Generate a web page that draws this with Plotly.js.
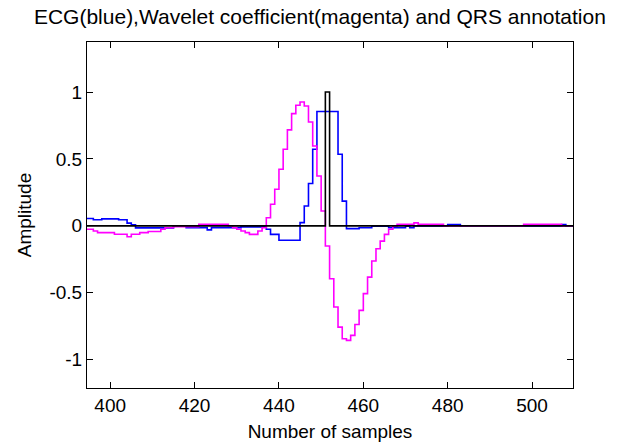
<!DOCTYPE html>
<html>
<head>
<meta charset="utf-8">
<script src="https://cdn.plot.ly/plotly-3.0.1.min.js"></script>
<style>html,body{margin:0;padding:0;background:#fff;}#chart{width:620px;height:444px;}</style>
</head>
<body>
<div id="chart"></div>
<script>
// sample index of first value
var firstSample = 394;

// ECG (blue), one value per sample from 394 to 510
var ecg = [
  0.055, 0.055, 0.045, 0.045, 0.052, 0.052, 0.052, 0.052, 0.045, 0.045, 0.02, 0.007,
  -0.015, -0.015, -0.015, -0.015, -0.015, -0.015, -0.015, -0.015, -0.015,
  -0.003, -0.003, -0.003,
  -0.013, -0.013, -0.013, -0.013, -0.013,
  -0.03,
  -0.013, -0.013, -0.013, -0.013, -0.013, -0.013, -0.013,
  -0.008, -0.008, -0.008, -0.008, -0.008, -0.008,
  -0.026, -0.064, -0.064,
  -0.108, -0.108, -0.108, -0.108, -0.108,
  0.024, 0.148, 0.316, 0.572,
  0.854, 0.854, 0.854, 0.854, 0.854,
  0.535, 0.185,
  -0.021, -0.021, -0.021,
  -0.014, -0.014, -0.014,
  -0.003, -0.003, -0.003, -0.003,
  -0.014, -0.014, -0.014, -0.014,
  -0.003, -0.014,
  0, 0, 0, 0, 0, 0, 0, 0,
  0.009, 0.009, 0.009,
  0, 0, 0, 0, 0, 0, 0, 0, 0, 0, 0, 0, 0, 0, 0, 0, 0, 0, 0, 0, 0, 0, 0, 0,
  0.009,
  0, 0, 0
];

// Wavelet coefficient (magenta), samples 394 to 510
var wavelet = [
  -0.026, -0.026, -0.039, -0.051,
  -0.051, -0.051, -0.051,
  -0.063, -0.063, -0.063,
  -0.081,
  -0.063, -0.063,
  -0.051, -0.051,
  -0.042, -0.042, -0.042,
  -0.026,
  -0.014, -0.014,
  -0.006, -0.006, -0.006, -0.006, -0.006, -0.006,
  0.012, 0.012, 0.012, 0.012, 0.012, 0.012, 0.012,
  0,
  -0.014, -0.026, -0.039, -0.051, -0.064, -0.064, -0.039, -0.014,
  0.061, 0.161, 0.273, 0.423, 0.572, 0.717, 0.839, 0.901, 0.926, 0.896, 0.776, 0.597, 0.372, 0.111,
  -0.151, -0.395, -0.607, -0.757, -0.844, -0.856, -0.819, -0.737, -0.632, -0.507, -0.383, -0.263,
  -0.171, -0.114, -0.064, -0.026, -0.001,
  0.011, 0.011, 0.011, 0.011,
  0.022,
  0.011, 0.011, 0.011, 0.011, 0.011, 0.011,
  0, 0, 0, 0, 0, 0, 0, 0, 0, 0, 0, 0, 0, 0, 0, 0, 0, 0, 0,
  0.011, 0.011, 0.011, 0.011, 0.011, 0.011, 0.011, 0.011, 0.011,
  0, 0, 0, 0
];

// QRS annotation: sample positions and their marks
var qrsSamples = [451];
var qrsValues = [1];

var yTickVals = [-1, -0.5, 0, 0.5, 1];
var yTickText = ['-1', '-0.5', '0', '0.5', '1'];
var xTickVals = [400, 420, 440, 460, 480, 500];
var xTickText = ['400', '420', '440', '460', '480', '500'];

var samples = [];
for (var i = 0; i < ecg.length; i++) samples.push(firstSample + i);
var qrs = samples.map(function (s) {
  var k = qrsSamples.indexOf(s);
  return k >= 0 ? qrsValues[k] : 0;
});

var font = 'Liberation Sans, Arial, sans-serif';
var lw = 1.6;
var traces = [
  {x: samples, y: ecg, type: 'scatter', mode: 'lines', line: {color: '#0000ff', width: lw, shape: 'hv'}},
  {x: samples, y: wavelet, type: 'scatter', mode: 'lines', line: {color: '#ff00ff', width: lw, shape: 'hv'}},
  {x: samples, y: qrs, type: 'scatter', mode: 'lines', line: {color: '#000000', width: lw, shape: 'hv'}}
];

var axisCommon = {
  showgrid: false, zeroline: false, showline: true, linecolor: '#000', linewidth: 1,
  mirror: 'ticks', ticks: 'inside', ticklen: 6, tickwidth: 1, tickcolor: '#000',
  tickfont: {family: font, size: 19, color: '#000'}
};

var layout = {
  width: 620, height: 444,
  margin: {l: 87, r: 47, t: 42, b: 56},
  paper_bgcolor: '#fff', plot_bgcolor: '#fff',
  showlegend: false,
  title: {text: 'ECG(blue),Wavelet coefficient(magenta) and QRS annotation',
          font: {family: font, size: 21, color: '#000'},
          xref: 'container', x: 0.516, xanchor: 'center',
          yref: 'container', y: 0.962, yanchor: 'middle'},
  xaxis: Object.assign({}, axisCommon, {
    range: [394.5, 509.7], tickvals: xTickVals, ticktext: xTickText,
    title: {text: 'Number of samples', font: {family: font, size: 19, color: '#000'}, standoff: 9}
  }),
  yaxis: Object.assign({}, axisCommon, {
    range: [-1.212, 1.374], tickvals: yTickVals, ticktext: yTickText,
    title: {text: 'Amplitude', font: {family: font, size: 19, color: '#000'}, standoff: 12}
  })
};

Plotly.newPlot('chart', traces, layout, {staticPlot: true, displayModeBar: false});
</script>
</body>
</html>
